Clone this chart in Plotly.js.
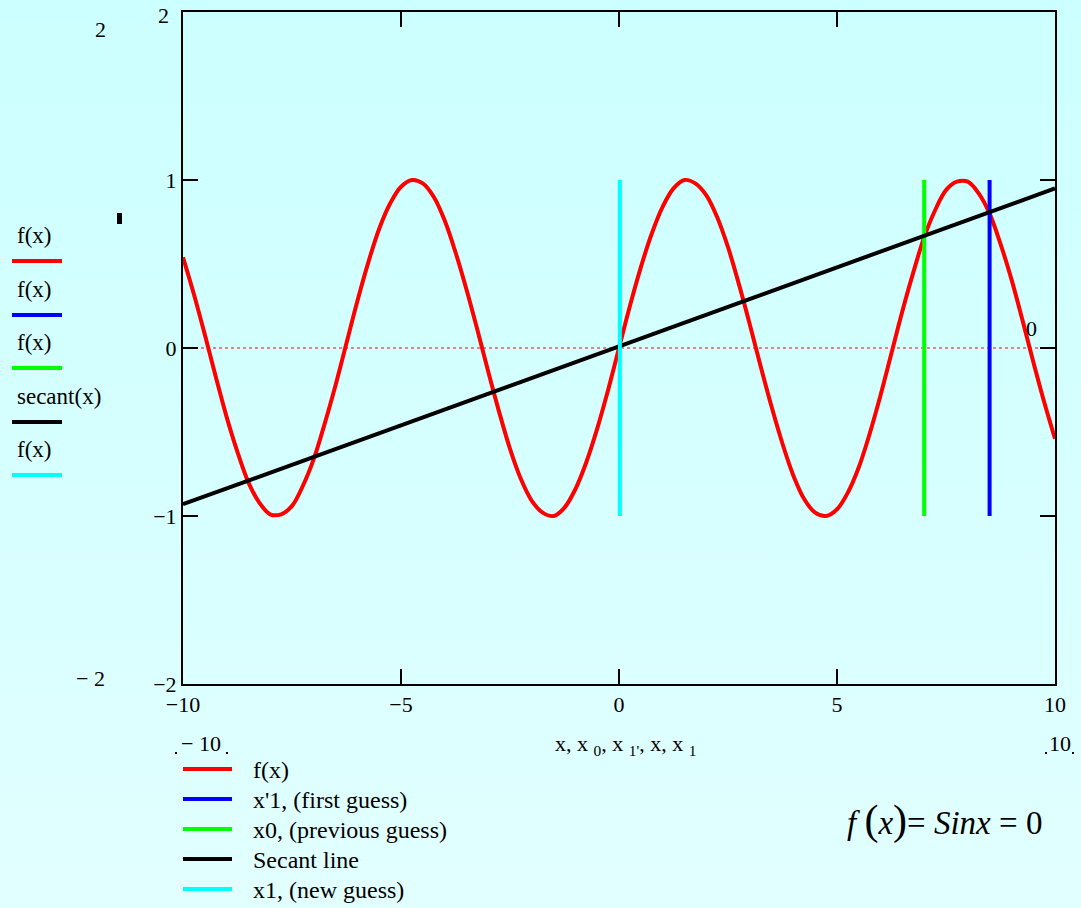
<!DOCTYPE html>
<html>
<head>
<meta charset="utf-8">
<script src="https://cdn.plot.ly/plotly-3.0.1.min.js"></script>
<style>
html,body{margin:0;padding:0;width:1081px;height:908px;overflow:hidden;
background:linear-gradient(to bottom,#ccffff 0%,#d8ffff 60%,#e2ffff 100%);}
#chart{width:1081px;height:908px;}
</style>
</head>
<body>
<div id="chart"></div>
<script>
// ---- data ----
const fx_x = [-10,-9.75,-9.5,-9.25,-9,-8.75,-8.5,-8.25,-8,-7.75,-7.5,-7.25,-7,-6.75,-6.5,-6.25,-6,-5.75,-5.5,-5.25,-5,-4.75,-4.5,-4.25,-4,-3.75,-3.5,-3.25,-3,-2.75,-2.5,-2.25,-2,-1.75,-1.5,-1.25,-1,-0.75,-0.5,-0.25,0,
  0.25,0.5,0.75,1,1.25,1.5,1.75,2,2.25,2.5,2.75,3,3.25,3.5,3.75,4,4.25,4.5,4.75,5,5.25,5.5,5.75,6,6.25,6.5,6.75,7,7.25,7.5,7.75,8,8.25,8.5,8.75,9,9.25,9.5,9.75,10];
const fx_y = [0.54,0.32,0.08,-0.17,-0.41,-0.62,-0.80,-0.92,-0.99,-0.99,-0.94,-0.82,-0.66,-0.45,-0.22,0.03,0.28,0.51,0.71,0.86,0.96,1.00,0.98,0.90,0.76,0.57,0.35,0.11,-0.14,-0.38,-0.60,-0.78,-0.91,-0.98,-1.00,-0.95,-0.84,-0.68,-0.48,-0.25,0.00,
  0.25,0.48,0.68,0.84,0.95,1.00,0.98,0.91,0.78,0.60,0.38,0.14,-0.11,-0.35,-0.57,-0.76,-0.90,-0.98,-1.00,-0.96,-0.86,-0.71,-0.51,-0.28,-0.03,0.22,0.45,0.66,0.82,0.94,0.99,0.99,0.92,0.80,0.62,0.41,0.17,-0.08,-0.32,-0.54];
const firstGuessX = [8.5, 8.5];
const prevGuessX = [7.0, 7.0];
const newGuessX = [0.02, 0.02];
const guessY = [-1, 1];
const secantX = [-10, 10];
const secantY = [-0.93, 0.95];
const xTickVals = [-10, -5, 0, 5, 10];
const yTickVals = [-2, -1, 0, 1, 2];
const legendNames = ["f(x)", "x'1, (first guess)", "x0, (previous guess)", "Secant line", "x1, (new guess)"];
const leftLabels = ["f(x)", "f(x)", "f(x)", "secant(x)", "f(x)"];
const colors = ["#ff0000", "#0000ff", "#00ff00", "#000000", "#00ffff"];

// ---- helpers: pixel -> paper ----
const L = 183, R = 1055, T = 12, B = 684;
const px = v => (v - L) / (R - L);
const py = v => (B - v) / (B - T);
const FONT = "Liberation Serif";

const traces = [
  {x: fx_x, y: fx_y, mode: 'lines', line: {color: colors[0], width: 4, shape: 'spline'}, name: legendNames[0]},
  {x: firstGuessX, y: guessY, mode: 'lines', line: {color: colors[1], width: 4}, name: legendNames[1]},
  {x: prevGuessX, y: guessY, mode: 'lines', line: {color: colors[2], width: 4}, name: legendNames[2]},
  {x: secantX, y: secantY, mode: 'lines', line: {color: colors[3], width: 4}, name: legendNames[3]},
  {x: newGuessX, y: guessY, mode: 'lines', line: {color: colors[4], width: 4}, name: legendNames[4]}
];

const annotations = [];
const shapes = [];
function txt(t, x, y, size, xanchor, family) {
  annotations.push({text: t, xref: 'paper', yref: 'paper', x: px(x), y: py(y),
    xanchor: xanchor || 'center', yanchor: 'middle', showarrow: false,
    font: {family: family || FONT, size: size || 22, color: '#000'}});
}
function seg(x0, y0, x1, y1, color, w) {
  shapes.push({type: 'line', xref: 'paper', yref: 'paper', x0: px(x0), y0: py(y0), x1: px(x1), y1: py(y1),
    line: {color: color, width: w}});
}

// left side legend (Mathcad style)
const leftTextY = [235, 289, 342, 396, 449];
leftLabels.forEach((t, i) => {
  txt(t, 15, leftTextY[i], 23, 'left');
  seg(12, leftTextY[i] + 26, 62, leftTextY[i] + 26, colors[i], 4);
});

// bottom legend (Mathcad style)
const bottomLineY = [769, 799, 829, 859, 889];
legendNames.forEach((t, i) => {
  seg(183, bottomLineY[i], 232, bottomLineY[i], colors[i], 4);
  txt(t, 251, bottomLineY[i] + 1, 24, 'left');
});

// extra Mathcad labels
txt('2', 163, 16, 22);
txt('2', 100, 29, 22);
txt('\u2212 2', 90, 678, 22);
txt('0', 1031, 328, 22);
txt('\u2212 10', 201, 744, 22);
txt('10', 1060, 744, 22);
txt('x, x <sub>0</sub>, x <sub>1\'</sub>, x, x <sub>1</sub>', 625, 745, 22);
txt('<i>f</i> <span style="font-size:42px">(</span><i>x</i><span style="font-size:42px">)</span>= <i>Sinx</i> = 0', 944, 820, 33);
// small marks
shapes.push({type: 'rect', xref: 'paper', yref: 'paper', x0: px(117), x1: px(122), y0: py(224), y1: py(213),
  fillcolor: '#000', line: {width: 0}});
[[175,753],[226,753],[1045,753],[1072,753]].forEach(p => seg(p[0], p[1], p[0] + 2, p[1], '#000', 2));

// dotted zero line
shapes.push({type: 'line', xref: 'paper', yref: 'y', x0: 0, x1: 1, y0: 0, y1: 0,
  line: {color: '#e06060', width: 1.5, dash: 'dot'}, layer: 'below'});

const axisCommon = {
  showgrid: false, zeroline: false, showline: true, linecolor: '#000', linewidth: 2,
  mirror: 'ticks', ticks: 'inside', ticklen: 15, tickwidth: 2, tickcolor: '#000',
  tickfont: {family: FONT, size: 22, color: '#000'}
};

const layout = {
  width: 1081, height: 908,
  margin: {l: L, r: 1081 - R, t: T, b: 908 - B, pad: 0, autoexpand: false},
  paper_bgcolor: 'rgba(0,0,0,0)', plot_bgcolor: 'rgba(0,0,0,0)',
  xaxis: Object.assign({}, axisCommon, {range: [-10, 10], tickvals: xTickVals, automargin: false}),
  yaxis: Object.assign({}, axisCommon, {range: [-2, 2], tickvals: yTickVals, automargin: false}),
  showlegend: false,
  annotations: annotations, shapes: shapes
};

Plotly.newPlot('chart', traces, layout, {displayModeBar: false, staticPlot: true});
</script>
</body>
</html>
